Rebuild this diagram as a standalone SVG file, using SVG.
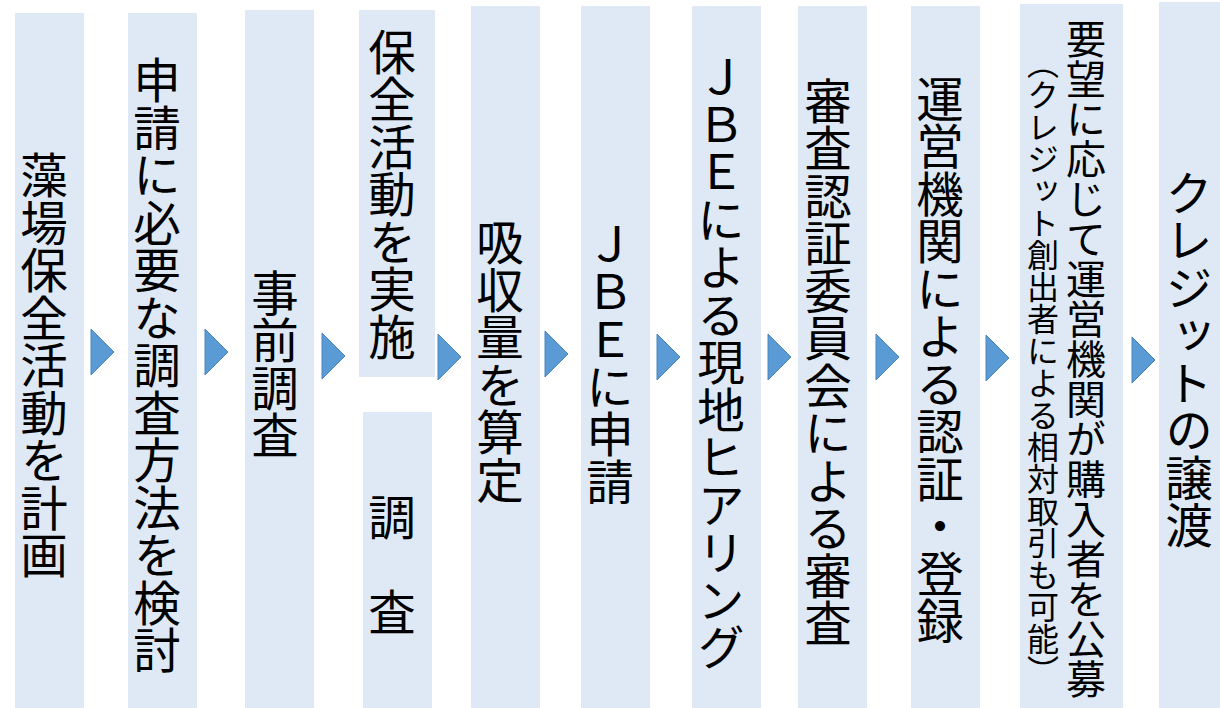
<svg xmlns="http://www.w3.org/2000/svg" width="1220" height="708" viewBox="0 0 1220 708">
<style>
.box{fill:#DEE9F5;}
.t{font-family:"Noto Sans CJK JP","Noto Sans",sans-serif;writing-mode:vertical-rl;text-anchor:middle;fill:#000;font-size:47.5px;}
.m{font-size:40px;}
.s{font-size:32px;}
.arr{fill:#5B9BD5;stroke:#4A85BE;stroke-width:1;}
</style>
<rect width="1220" height="708" fill="#fff"/>
<g id="n1"><rect class="box" x="15" y="13" width="69" height="695"/><text class="t" x="44" y="365">藻場保全活動を計画</text></g>
<g id="n2"><rect class="box" x="128" y="13" width="69" height="695"/><text class="t" x="157" y="365">申請に必要な調査方法を検討</text></g>
<g id="n3"><rect class="box" x="245" y="10" width="69" height="698"/><text class="t" x="275" y="364">事前調査</text></g>
<g id="n4a"><rect class="box" x="359" y="10" width="76" height="367"/><text class="t" x="392" y="194">保全活動を実施</text></g>
<g id="n4b"><rect class="box" x="363" y="412" width="69" height="296"/><text class="t" x="392" y="564">調　査</text></g>
<g id="n5"><rect class="box" x="471" y="6" width="69" height="702"/><text class="t" x="500" y="361">吸収量を算定</text></g>
<g id="n6"><rect class="box" x="581" y="6" width="69" height="702"/><text class="t" x="610" y="363">ＪＢＥに申請</text></g>
<g id="n7"><rect class="box" x="692" y="6" width="69" height="702"/><text class="t" x="721" y="362">ＪＢＥによる現地ヒアリング</text></g>
<g id="n8"><rect class="box" x="798" y="6" width="69" height="702"/><text class="t" x="828" y="362">審査認証委員会による審査</text></g>
<g id="n9"><rect class="box" x="911" y="6" width="69" height="702"/><text class="t" x="940" y="360">運営機関による認証・登録</text></g>
<g id="n10"><rect class="box" x="1020" y="4" width="103" height="704"/><text class="t m" x="1086" y="359">要望に応じて運営機関が購入者を公募</text><text class="t s" x="1043" y="367">（クレジット創出者による相対取引も可能）</text></g>
<g id="n11"><rect class="box" x="1159" y="2" width="61" height="706"/><text class="t" x="1189" y="359">クレジットの譲渡</text></g>
<g id="connectors">
<polygon class="arr" points="91,329 114,352 91,375"/>
<polygon class="arr" points="205,329 228,352 205,375"/>
<polygon class="arr" points="322,333 345,356 322,379"/>
<polygon class="arr" points="438,334 461,357 438,380"/>
<polygon class="arr" points="545,331 568,354 545,377"/>
<polygon class="arr" points="657,334 680,357 657,380"/>
<polygon class="arr" points="768,334 791,357 768,380"/>
<polygon class="arr" points="876,334 899,357 876,380"/>
<polygon class="arr" points="986,335 1009,358 986,381"/>
<polygon class="arr" points="1132,337 1155,360 1132,383"/>
</g>
</svg>
